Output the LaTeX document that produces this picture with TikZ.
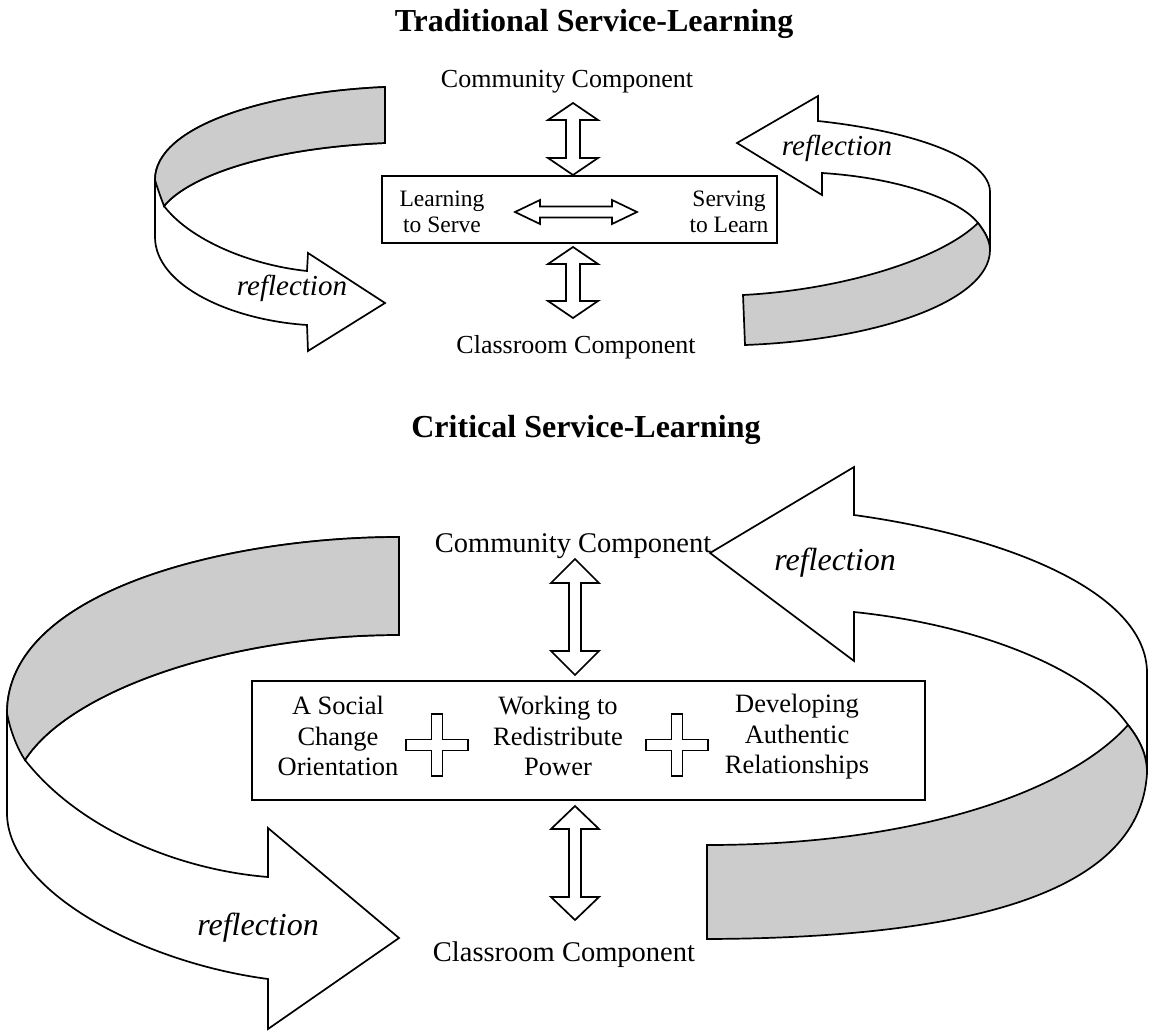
\documentclass[tikz,border=0pt]{standalone}
\usepackage{fontspec}
\setmainfont{Liberation Serif}
\usetikzlibrary{calc}
\tikzset{
  ln/.style={line width=1.7pt, line join=miter},
  ribbonwhite/.style={ln, draw=black, fill=white},
  ribbongray/.style={ln, draw=black, fill=gray!40},
  blockarrow/.style={ln, draw=black, fill=white},
  frame/.style={ln, draw=black, fill=white, inner sep=0pt, anchor=north west},
  title/.style={font=\fontsize{32}{36}\selectfont\bfseries, anchor=base, inner sep=0pt},
  comp/.style={font=\fontsize{26}{30}\selectfont, anchor=base, inner sep=0pt},
  compbig/.style={font=\fontsize{28.5}{32}\selectfont, anchor=base, inner sep=0pt},
  refl/.style={font=\fontsize{29}{32}\selectfont\itshape, anchor=base, inner sep=0pt},
  reflbig/.style={font=\fontsize{32}{36}\selectfont\itshape, anchor=base, inner sep=0pt},
  smalltxt/.style={font=\fontsize{23.5}{26.5}\selectfont, align=center, inner sep=0pt},
  boxtxt/.style={font=\fontsize{26.5}{30.5}\selectfont, align=center, inner sep=0pt}
}
% double block arrow from #1 to #2; #3 head length, #4 head half width, #5 shaft half width
\newcommand\blockarr[5]{%
  \draw[blockarrow] (#1)
    -- ($(#1)!#3!(#2)!#4!90:(#2)$)
    -- ($(#1)!#3!(#2)!#5!90:(#2)$)
    -- ($(#2)!#3!(#1)!#5!-90:(#1)$)
    -- ($(#2)!#3!(#1)!#4!-90:(#1)$)
    -- (#2)
    -- ($(#2)!#3!(#1)!#4!90:(#1)$)
    -- ($(#2)!#3!(#1)!#5!90:(#1)$)
    -- ($(#1)!#3!(#2)!#5!-90:(#2)$)
    -- ($(#1)!#3!(#2)!#4!-90:(#2)$)
    -- cycle;}
% plus sign centred on coordinate #1
\newcommand\plusshape[1]{%
  \draw[blockarrow] (#1) ++(-5.5,-31) -- ++(11,0) -- ++(0,25.5) -- ++(25.5,0)
    -- ++(0,11) -- ++(-25.5,0) -- ++(0,25.5) -- ++(-11,0) -- ++(0,-25.5)
    -- ++(-25.5,0) -- ++(0,-11) -- ++(25.5,0) -- cycle;}
\begin{document}
\begin{tikzpicture}[x=1pt, y=-1pt]
\useasboundingbox (0,0) rectangle (1155,1030);
\fill[white] (0,0) rectangle (1155,1030);

% ===== Top: Traditional Service-Learning =====
% top-left ribbon
\draw[ribbonwhite] (385,87) .. controls (270,92) and (155,125) .. (155,180)
  -- (155,237) .. controls (155,285) and (230,320) .. (307,325)
  -- (308,351) -- (385,303) -- (308,253) -- (307,271)
  .. controls (250,265) and (190,240) .. (164,206)
  .. controls (190,175) and (270,148) .. (385,143) -- cycle;
\draw[ribbongray] (385,87) .. controls (270,92) and (155,125) .. (155,180)
  .. controls (158,190) and (161,198) .. (164,206)
  .. controls (190,175) and (270,148) .. (385,143) -- cycle;
% top-right ribbon
\draw[ribbonwhite] (737,143) -- (818,96) -- (818,121)
  .. controls (920,132) and (990,160) .. (990,192) -- (990,250)
  .. controls (990,241) and (985,232) .. (978,223)
  .. controls (960,200) and (900,178) .. (822,173) -- (822,195) -- cycle;
\draw[ribbongray] (978,223) .. controls (940,260) and (840,290) .. (743,295)
  -- (745,345) .. controls (880,340) and (990,300) .. (990,250)
  .. controls (990,241) and (985,232) .. (978,223) -- cycle;

\node[frame, minimum width=395pt, minimum height=67pt] (box1) at (381,175) {};
\node[title] (t1) at (594,32) {Traditional Service-Learning};
\node[comp] (comm1) at (567,88) {Community Component};
\node[comp] (class1) at (576,353) {Classroom Component};
\node[smalltxt] (lts) at (442,212) {Learning\\to Serve};
\node[smalltxt] (stl) at (729,212) {Serving\\to Learn};
\node[refl] (r1) at (292,295) {reflection};
\node[refl] (r2) at (837,155) {reflection};

\coordinate (ua) at (573,103);
\coordinate (ub) at (573,175);
\coordinate (uc) at (573,247);
\coordinate (ud) at (573,318);
\coordinate (ha) at (515,212);
\coordinate (hb) at (637,212);
\blockarr{ua}{ub}{17pt}{25pt}{7pt}
\blockarr{uc}{ud}{17pt}{25pt}{7pt}
\blockarr{ha}{hb}{25pt}{12pt}{5.5pt}

% ===== Bottom: Critical Service-Learning =====
% bottom-left ribbon
\draw[ribbonwhite] (399,537) .. controls (230,537) and (7,590) .. (7,713)
  -- (7,813) .. controls (7,890) and (140,962) .. (268,979)
  -- (268,1029) -- (399,938) -- (268,828) -- (268,877)
  .. controls (180,870) and (80,830) .. (25,760)
  .. controls (70,690) and (230,635) .. (399,635) -- cycle;
\draw[ribbongray] (399,537) .. controls (230,537) and (7,590) .. (7,713)
  .. controls (10,730) and (17,748) .. (25,760)
  .. controls (70,690) and (230,635) .. (399,635) -- cycle;
% bottom-right ribbon
\draw[ribbonwhite] (710,553) -- (854,467) -- (854,515)
  .. controls (1000,535) and (1147,590) .. (1147,673) -- (1147,773)
  .. controls (1147,755) and (1140,740) .. (1128,725)
  .. controls (1090,670) and (980,625) .. (854,612) -- (854,661) -- cycle;
\draw[ribbongray] (1128,725) .. controls (1070,790) and (920,845) .. (707,845)
  -- (707,939) .. controls (950,938) and (1140,900) .. (1147,773)
  .. controls (1147,755) and (1140,740) .. (1128,725) -- cycle;

\node[frame, minimum width=673pt, minimum height=119pt] (box2) at (251,680) {};
\node[title] (t2) at (586,437) {Critical Service-Learning};
\node[compbig] (comm2) at (573,552) {Community Component};
\node[compbig] (class2) at (564,961) {Classroom Component};
\node[boxtxt] (b1) at (338,736) {A Social\\Change\\Orientation};
\node[boxtxt] (b2) at (558,736) {Working to\\Redistribute\\Power};
\node[boxtxt] (b3) at (797,737) {Developing\\Authentic\\Relationships};
\node[reflbig] (r3) at (258,935) {reflection};
\node[reflbig] (r4) at (835,570) {reflection};

\coordinate (la) at (575,559);
\coordinate (lb) at (575,675);
\coordinate (lc) at (575,806);
\coordinate (ld) at (575,920);
\blockarr{la}{lb}{24pt}{24pt}{6pt}
\blockarr{lc}{ld}{23pt}{24pt}{6pt}
\coordinate (p1) at (437,745);
\coordinate (p2) at (677,745);
\plusshape{p1}
\plusshape{p2}
\end{tikzpicture}
\end{document}
